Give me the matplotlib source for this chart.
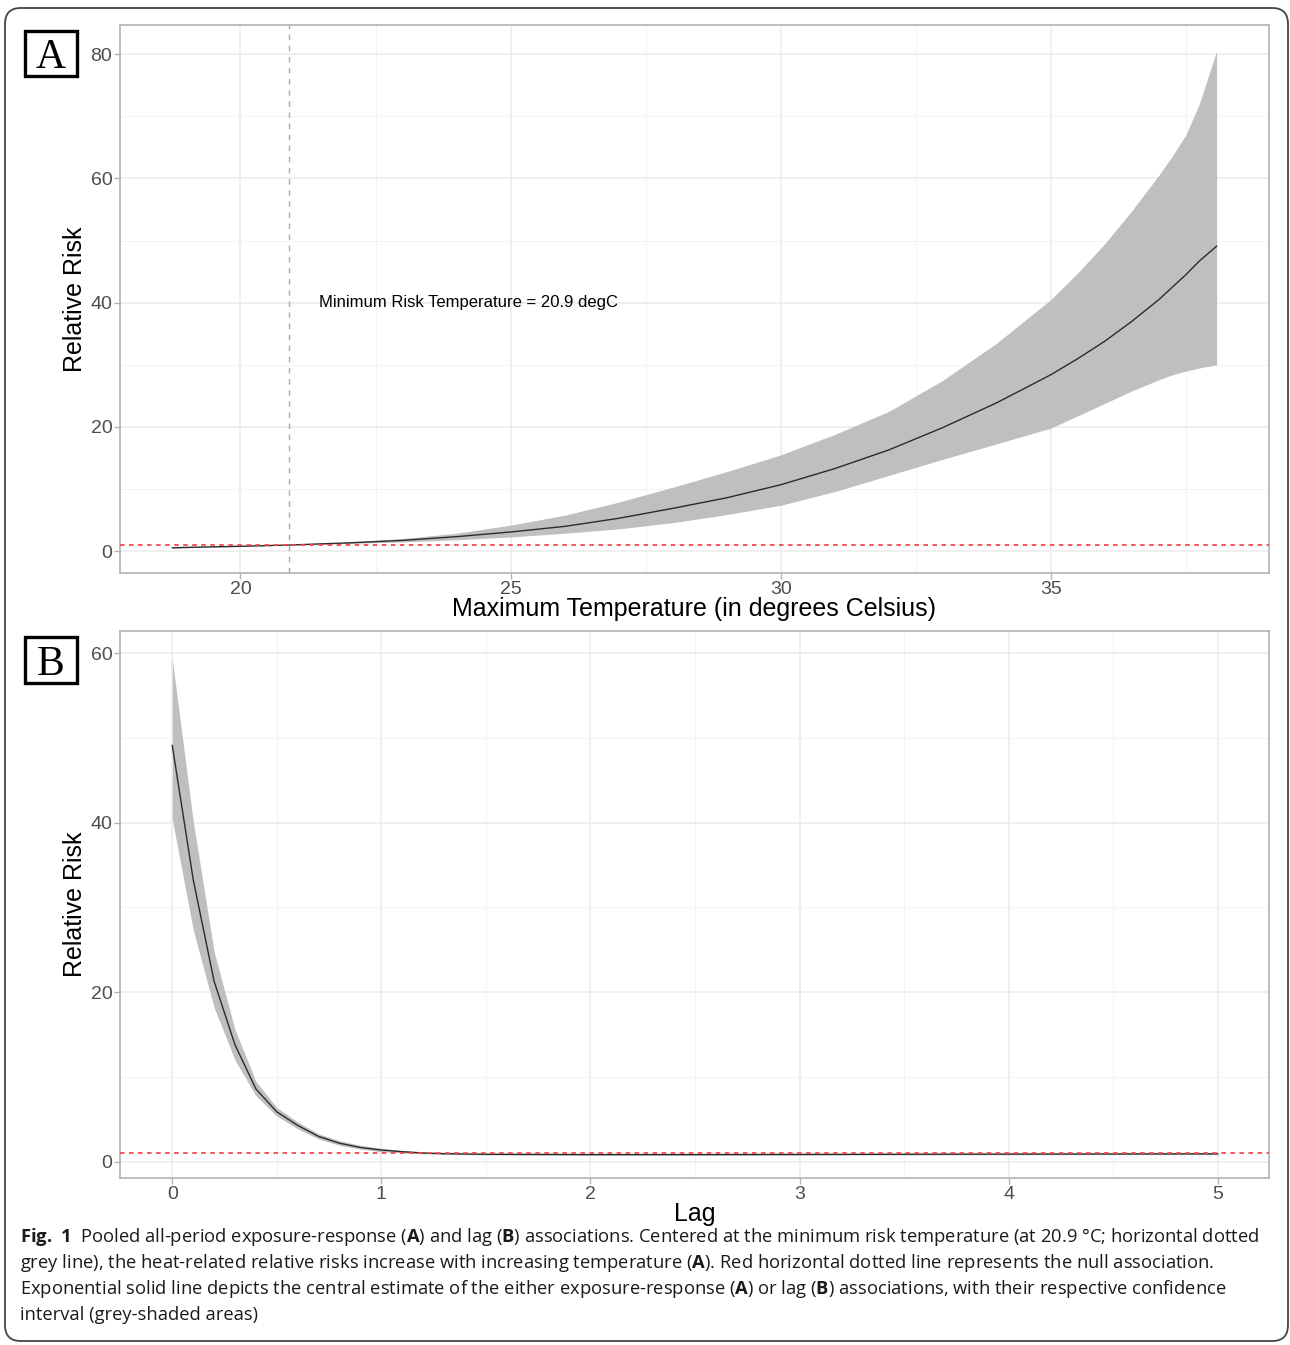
import matplotlib
matplotlib.use("Agg")
import matplotlib.pyplot as plt
from matplotlib import font_manager
from matplotlib.patches import FancyBboxPatch, Rectangle
from matplotlib.ticker import MultipleLocator

# ---------------- data ----------------
temp = [18.74, 19, 20, 20.9, 22, 23, 24, 25, 26, 27, 28, 29, 30, 31, 32, 33, 34, 35, 35.5, 36, 36.5, 37, 37.25, 37.5, 37.75, 38.07]
rr_a = [0.55, 0.62, 0.8, 1.0, 1.35, 1.75, 2.35, 3.1, 4.0, 5.3, 6.9, 8.6, 10.7, 13.3, 16.3, 19.9, 23.9, 28.4, 31.0, 33.8, 37.0, 40.5, 42.5, 44.5, 46.7, 49.1]
hi_a = [0.6, 0.66, 0.83, 1.0, 1.45, 2.05, 2.9, 4.2, 5.8, 7.9, 10.3, 12.8, 15.5, 18.8, 22.5, 27.5, 33.5, 40.5, 44.8, 49.5, 54.8, 60.5, 63.6, 67.0, 72.0, 80.5]
lo_a = [0.5, 0.58, 0.77, 1.0, 1.25, 1.5, 1.85, 2.3, 2.9, 3.6, 4.6, 5.9, 7.4, 9.6, 12.2, 14.8, 17.3, 19.8, 21.8, 23.8, 25.8, 27.6, 28.4, 29.0, 29.5, 30.0]

lag = [0, 0.1, 0.2, 0.3, 0.4, 0.5, 0.6, 0.7, 0.8, 0.9, 1.0, 1.1, 1.2, 1.3, 1.5, 2.0, 2.5, 3.0, 3.5, 4.0, 4.5, 5.0]
rr_b = [49.1, 33.3, 21.3, 13.8, 8.6, 5.9, 4.3, 3.0, 2.2, 1.7, 1.4, 1.2, 1.05, 0.97, 0.9, 0.86, 0.86, 0.88, 0.9, 0.92, 0.94, 0.95]
hi_b = [59.3, 40.2, 24.8, 15.6, 9.5, 6.4, 4.7, 3.3, 2.5, 1.95, 1.6, 1.35, 1.15, 1.07, 1.0, 0.95, 0.95, 0.97, 0.99, 1.01, 1.03, 1.05]
lo_b = [40.4, 27.4, 18.2, 12.0, 7.8, 5.4, 3.9, 2.7, 1.95, 1.5, 1.2, 1.05, 0.95, 0.88, 0.82, 0.78, 0.78, 0.8, 0.82, 0.84, 0.85, 0.86]

mrt = 20.9
null_rr = 1.0

annot = "Minimum Risk Temperature = 20.9 degC"
xlabel_a = "Maximum Temperature (in degrees Celsius)"
xlabel_b = "Lag"
ylabel = "Relative Risk"

caption_lines = [
    r"$\mathbf{Fig.\ 1}$  Pooled all-period exposure-response ($\mathbf{A}$) and lag ($\mathbf{B}$) associations. Centered at the minimum risk temperature (at 20.9 °C; horizontal dotted",
    r"grey line), the heat-related relative risks increase with increasing temperature ($\mathbf{A}$). Red horizontal dotted line represents the null association.",
    r"Exponential solid line depicts the central estimate of the either exposure-response ($\mathbf{A}$) or lag ($\mathbf{B}$) associations, with their respective confidence",
    r"interval (grey-shaded areas)",
]

# ---------------- fonts ----------------
names = {f.name for f in font_manager.fontManager.ttflist}
sans = "Liberation Sans" if "Liberation Sans" in names else "DejaVu Sans"
serif = "Liberation Serif" if "Liberation Serif" in names else "DejaVu Serif"
cap_font = "Liberation Sans Narrow" if "Liberation Sans Narrow" in names else ("Open Sans" if "Open Sans" in names else sans)

plt.rcParams["font.family"] = [sans, "DejaVu Sans"]
plt.rcParams["mathtext.fontset"] = "custom"
plt.rcParams["mathtext.rm"] = cap_font
plt.rcParams["mathtext.it"] = cap_font
plt.rcParams["mathtext.bf"] = cap_font + ":bold"

W, H = 1290, 1345
fig = plt.figure(figsize=(W / 100, H / 100), dpi=100)

def fx(px):
    return px / W

def fy(py):
    return 1 - py / H

axA = fig.add_axes([fx(120), fy(573), fx(1269) - fx(120), fy(25) - fy(573)])
axB = fig.add_axes([fx(120), fy(1178), fx(1269) - fx(120), fy(631) - fy(1178)])

band_col = "#BFBFBF"
line_col = "#2B2B2B"
red_col = "#F04A4C"
border_col = "#B3B3B3"

def style(ax, xmajor, xminor, ymajor, yminor):
    ax.set_facecolor("white")
    ax.xaxis.set_major_locator(MultipleLocator(xmajor))
    ax.xaxis.set_minor_locator(MultipleLocator(xminor))
    ax.yaxis.set_major_locator(MultipleLocator(ymajor))
    ax.yaxis.set_minor_locator(MultipleLocator(yminor))
    ax.grid(which="major", color="#EBEBEB", lw=1.1, zorder=0)
    ax.grid(which="minor", color="#F3F3F3", lw=0.7, zorder=0)
    ax.set_axisbelow(True)
    for s in ax.spines.values():
        s.set_color(border_col)
        s.set_linewidth(1.2)
    ax.tick_params(which="major", length=4, width=1, color=border_col,
                   labelcolor="#4D4D4D", labelsize=14, pad=1.5)
    ax.tick_params(which="minor", length=0)

# ---- panel A ----
axA.fill_between(temp, lo_a, hi_a, color=band_col, lw=0, zorder=2)
axA.plot(temp, rr_a, color=line_col, lw=1.0, zorder=3)
axA.axvline(mrt, color="#AAAAAA", lw=1.0, ls=(0, (4, 4)), zorder=3)
axA.axhline(null_rr, color=red_col, lw=1.3, ls=(0, (2.5, 2.5)), zorder=4)
axA.text(21.45, 40, annot, fontsize=12, color="black", ha="left", va="center", zorder=5)
axA.set_xlim(17.77, 39.04)
axA.set_ylim(-3.5, 84.7)
style(axA, 5, 2.5, 20, 10)

# ---- panel B ----
axB.fill_between(lag, lo_b, hi_b, color=band_col, lw=0, zorder=2)
axB.plot(lag, rr_b, color=line_col, lw=1.0, zorder=3)
axB.axhline(null_rr, color=red_col, lw=1.3, ls=(0, (2.5, 2.5)), zorder=4)
axB.set_xlim(-0.25, 5.245)
axB.set_ylim(-1.9, 62.6)
style(axB, 1, 0.5, 20, 10)

# ---- axis titles ----
fig.text(fx(75), fy(299), ylabel, rotation=90, ha="center", va="center", fontsize=18)
fig.text(fx(75), fy(904), ylabel, rotation=90, ha="center", va="center", fontsize=18)
fig.text(fx(694.5), fy(609), xlabel_a, ha="center", va="center", fontsize=18)
fig.text(fx(694.5), fy(1214), xlabel_b, ha="center", va="center", fontsize=18)

# ---- panel labels ----
for lab, top, bot, base in [("A", 31, 76, 68), ("B", 637, 683, 675)]:
    fig.patches.append(Rectangle((fx(25), fy(bot)), fx(77) - fx(25), fy(top) - fy(bot),
                                 transform=fig.transFigure, fill=False, ec="black", lw=2.4))
    fig.text(fx(51), fy(base), lab, family=serif, fontsize=30, ha="center", va="baseline")

# ---- caption ----
cap_y = [1237, 1263, 1289, 1315]
for line, y in zip(caption_lines, cap_y):
    fig.text(fx(20), fy(y), line, family=cap_font, fontsize=13.2, ha="left", va="center", color="#1A1A1A")

# ---- outer rounded border ----
fig.patches.append(FancyBboxPatch((fx(5), fy(1341)), fx(1288) - fx(5), fy(8) - fy(1341),
                                  boxstyle="round,pad=0,rounding_size=0.012",
                                  transform=fig.transFigure, fill=False, ec="#444444", lw=1.3))

fig.savefig("out.png", dpi=100, facecolor="white")
